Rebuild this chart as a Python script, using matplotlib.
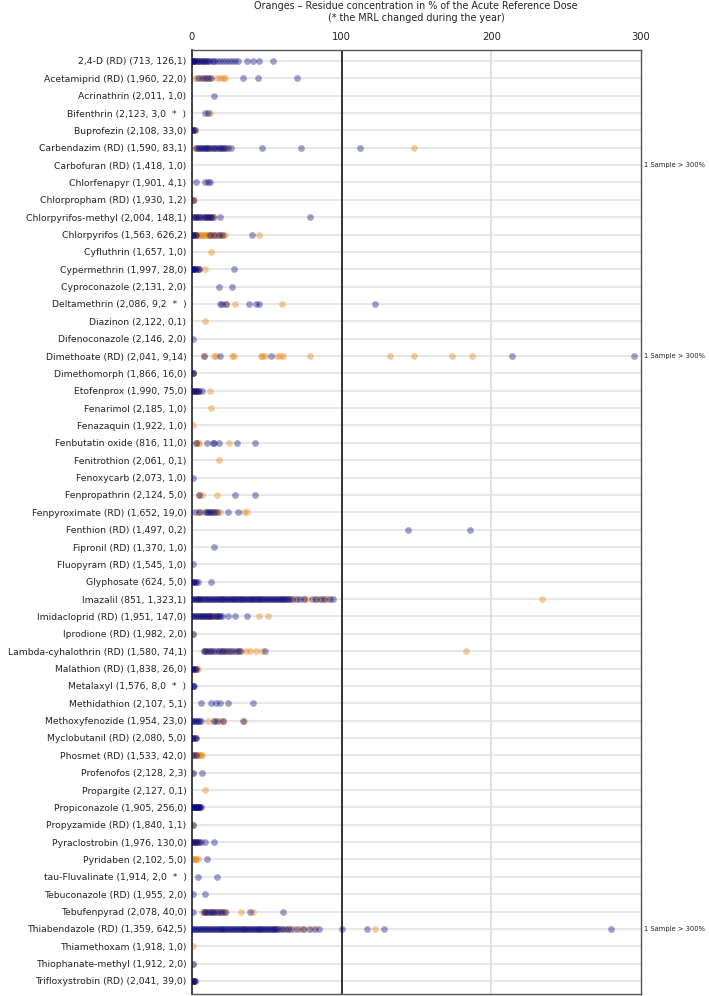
import numpy as np
import matplotlib
matplotlib.use("Agg")
import matplotlib.pyplot as plt

plt.rcParams['font.family'] = ['DejaVu Sans']

#     :: Data ::
substances = ["2,4-D (RD) (713, 126,1)", "Acetamiprid (RD) (1,960, 22,0)", "Acrinathrin (2,011, 1,0)",
              "Bifenthrin (2,123, 3,0  *  )", "Buprofezin (2,108, 33,0)", "Carbendazim (RD) (1,590, 83,1)",
              "Carbofuran (RD) (1,418, 1,0)", "Chlorfenapyr (1,901, 4,1)", "Chlorpropham (RD) (1,930, 1,2)",
              "Chlorpyrifos-methyl (2,004, 148,1)", "Chlorpyrifos (1,563, 626,2)", "Cyfluthrin (1,657, 1,0)",
              "Cypermethrin (1,997, 28,0)", "Cyproconazole (2,131, 2,0)", "Deltamethrin (2,086, 9,2  *  )",
              "Diazinon (2,122, 0,1)", "Difenoconazole (2,146, 2,0)", "Dimethoate (RD) (2,041, 9,14)",
              "Dimethomorph (1,866, 16,0)", "Etofenprox (1,990, 75,0)", "Fenarimol (2,185, 1,0)",
              "Fenazaquin (1,922, 1,0)", "Fenbutatin oxide (816, 11,0)", "Fenitrothion (2,061, 0,1)",
              "Fenoxycarb (2,073, 1,0)", "Fenpropathrin (2,124, 5,0)", "Fenpyroximate (RD) (1,652, 19,0)",
              "Fenthion (RD) (1,497, 0,2)", "Fipronil (RD) (1,370, 1,0)", "Fluopyram (RD) (1,545, 1,0)",
              "Glyphosate (624, 5,0)", "Imazalil (851, 1,323,1)", "Imidacloprid (RD) (1,951, 147,0)",
              "Iprodione (RD) (1,982, 2,0)", "Lambda-cyhalothrin (RD) (1,580, 74,1)", "Malathion (RD) (1,838, 26,0)",
              "Metalaxyl (1,576, 8,0  *  )", "Methidathion (2,107, 5,1)", "Methoxyfenozide (1,954, 23,0)",
              "Myclobutanil (RD) (2,080, 5,0)", "Phosmet (RD) (1,533, 42,0)", "Profenofos (2,128, 2,3)",
              "Propargite (2,127, 0,1)", "Propiconazole (1,905, 256,0)", "Propyzamide (RD) (1,840, 1,1)",
              "Pyraclostrobin (1,976, 130,0)", "Pyridaben (2,102, 5,0)", "tau-Fluvalinate (1,914, 2,0  *  )",
              "Tebuconazole (RD) (1,955, 2,0)", "Tebufenpyrad (2,078, 40,0)", "Thiabendazole (RD) (1,359, 642,5)",
              "Thiamethoxam (1,918, 1,0)", "Thiophanate-methyl (1,912, 2,0)", "Trifloxystrobin (RD) (2,041, 39,0)"]

# residue values (% ARfD), first series (navy)
navy_vals = [
    [0, 0.5, 1, 1.5, 2, 3, 4, 5, 6, 7, 8, 9, 10, 11, 12, 14, 15, 17, 19, 21, 23, 25, 27, 29, 31, 37, 41, 45, 54],
    [4, 7, 9, 11, 13, 34, 44, 70],
    [15],
    [9, 11],
    [0, 1, 2],
    [3, 4, 5, 6, 7, 8, 9, 10, 11, 12, 14, 15, 16, 18, 19, 20, 21, 22, 24, 26, 47, 73, 112],
    [],
    [3, 9, 11, 12],
    [0.5],
    [0.5, 2, 3, 4, 5, 6, 8, 9, 10, 11, 12, 13, 14, 19, 79],
    [0, 1, 2, 3, 12, 15, 18, 20, 40],
    [],
    [0, 0.5, 1, 1.5, 2, 3, 4, 5, 28],
    [18, 27],
    [19, 20, 23, 38, 43, 45, 122],
    [],
    [1],
    [8, 19, 53, 214, 295],
    [0.5, 1],
    [0, 1, 2, 3, 4, 5, 7],
    [],
    [],
    [3, 10, 14, 14.5, 18, 30, 42],
    [],
    [0.5],
    [5, 29, 42],
    [2, 5, 9, 10, 11, 12, 13, 15, 17, 24, 31],
    [144, 186],
    [15],
    [0.5],
    [0.5, 1, 2, 3, 4, 13],
    [0, 1, 2, 3, 4, 5, 6, 7, 8, 9, 10, 11, 12, 13, 14, 15, 16, 17, 18, 19, 20, 21, 22, 23, 24, 25, 26, 27, 28,
     29, 30, 31, 32, 33, 34, 35, 36, 37, 38, 39, 40, 41, 42, 43, 44, 45, 46, 47, 48, 49, 50, 51, 52, 53, 54, 55,
     56, 57, 58, 59, 60, 61, 62, 63, 64, 65, 67, 70, 72, 75, 80, 83, 86, 88, 92, 94],
    [0, 1, 2, 3, 4, 5, 6, 7, 8, 9, 10, 11, 12, 13, 14, 16, 17, 18, 19, 20, 24, 29, 37],
    [1],
    [8, 9, 10, 12, 13, 15, 17, 18, 20, 21, 23, 25, 27, 29, 31, 32, 49],
    [0, 1, 2, 3],
    [0.5, 1, 1.5],
    [6, 13, 16, 19, 24, 41],
    [0, 1, 2, 3, 4, 5, 6, 15, 17, 21, 34],
    [0, 1, 2, 3],
    [1, 3],
    [0.5, 7],
    [],
    [0, 0.5, 1, 1.5, 2, 2.5, 3, 3.5, 4, 4.5, 5, 5.5, 6],
    [1],
    [0, 1, 2, 3, 4, 5, 6, 9, 15],
    [10],
    [4, 17],
    [1, 9],
    [1, 8, 9, 10, 12, 13, 14, 15, 17, 19, 20, 22, 39, 61],
    [0, 1, 2, 3, 4, 5, 6, 7, 8, 9, 10, 11, 12, 13, 14, 15, 16, 17, 18, 19, 20, 21, 22, 23, 24, 25, 26, 27, 28,
     29, 30, 31, 32, 33, 34, 35, 36, 37, 38, 39, 40, 41, 42, 43, 44, 45, 46, 47, 48, 49, 50, 51, 52, 53, 54, 55,
     56, 57, 58, 60, 62, 64, 66, 70, 74, 78, 82, 85, 100, 117, 128, 280],
    [],
    [1],
    [0.5, 1, 1.5, 2],
]

# second series (orange)
orange_vals = [
    [4, 8],
    [2, 5, 8, 10, 12, 17, 19, 21, 22],
    [],
    [12],
    [0, 0.5, 1, 1.5, 2],
    [2, 10, 13, 17, 23, 148],
    [],
    [],
    [0, 1, 1.5],
    [1, 3, 7, 10, 13, 15],
    [0, 1, 2, 3, 4, 5, 6, 7, 8, 9, 10, 11, 12, 13, 14, 16, 17, 19, 21, 22, 45],
    [13],
    [5, 9],
    [],
    [23, 29, 60],
    [9],
    [],
    [8, 15, 16, 27, 28, 46, 47, 49, 57, 59, 61, 79, 132, 148, 174, 187],
    [0.5, 1],
    [0, 1, 2, 3, 4, 12],
    [13],
    [0.5],
    [3, 4, 5, 25],
    [18],
    [],
    [5, 7, 17],
    [5, 6, 14, 15, 16, 19, 35, 37],
    [],
    [],
    [],
    [0.5],
    [4, 5, 20, 28, 33, 40, 45, 60, 66, 69, 75, 77, 82, 85, 89, 91, 234],
    [7, 10, 12, 14, 16, 45, 51],
    [1],
    [8, 11, 14, 19, 22, 24, 26, 30, 33, 36, 39, 43, 47, 183],
    [0, 1, 2, 3, 4],
    [],
    [],
    [11, 15, 19, 21, 35],
    [1, 3],
    [0, 1, 2, 3, 4, 5, 6, 7],
    [0.5],
    [9],
    [],
    [1],
    [0, 1, 2, 3],
    [0, 1, 2, 3, 4],
    [],
    [],
    [7, 9, 11, 16, 18, 21, 23, 33, 41],
    [20, 35, 45, 55, 60, 64, 68, 72, 75, 80, 122],
    [1],
    [1],
    [0.5, 1, 1.5, 2],
]

# substances with one sample above the axis limit
over_300 = ["Carbofuran (RD) (1,418, 1,0)", "Dimethoate (RD) (2,041, 9,14)", "Thiabendazole (RD) (1,359, 642,5)"]

xticks = [0, 100, 200, 300]

#     :: Plot ::
fig = plt.figure(figsize=(7.09, 9.96), dpi=100)
ax = fig.add_axes([0.2708, 0.002, 0.6333, 0.9478])

n = len(substances)
for i in range(n):
    ax.axhline(i, color="#e3e3e3", lw=1.2, zorder=0)

ax.axvline(100, color="#222222", lw=1.3, zorder=1)
ax.axvline(200, color="#dddddd", lw=1.3, zorder=0)

for i in range(n):
    nv = navy_vals[i]
    ov = orange_vals[i]
    if len(ov) > 0:
        ax.scatter(ov, [i] * len(ov), s=24, color="#e8820c", alpha=0.4, linewidths=0, zorder=2)
    if len(nv) > 0:
        ax.scatter(nv, [i] * len(nv), s=24, color="#00007a", alpha=0.37, linewidths=0, zorder=3)
    if substances[i] in over_300:
        ax.text(302, i, "1 Sample > 300%", fontsize=4.9, va="center", ha="left", color="#222222")

ax.set_xlim(0, 300)
ax.set_ylim(n - 1 + 0.75, -0.63)
ax.set_yticks(range(n))
ax.set_yticklabels(substances, fontsize=6.7, color="#222222")
ax.set_xticks(xticks)
ax.xaxis.tick_top()
ax.tick_params(axis="x", length=0, labelsize=7.2, pad=6, colors="#222222")
ax.tick_params(axis="y", length=0, pad=4)
for side in ["top", "right", "bottom"]:
    ax.spines[side].set_color("#555555")
    ax.spines[side].set_linewidth(1.0)
ax.spines["left"].set_color("#333333")
ax.spines["left"].set_linewidth(1.3)

fig.text(0.587, 0.9985, "Oranges \u2013 Residue concentration in % of the Acute Reference Dose",
         ha="center", va="top", fontsize=6.9, color="#222222")
fig.text(0.587, 0.987, "(* the MRL changed during the year)",
         ha="center", va="top", fontsize=6.9, color="#222222")

fig.savefig("out.png", dpi=100)
